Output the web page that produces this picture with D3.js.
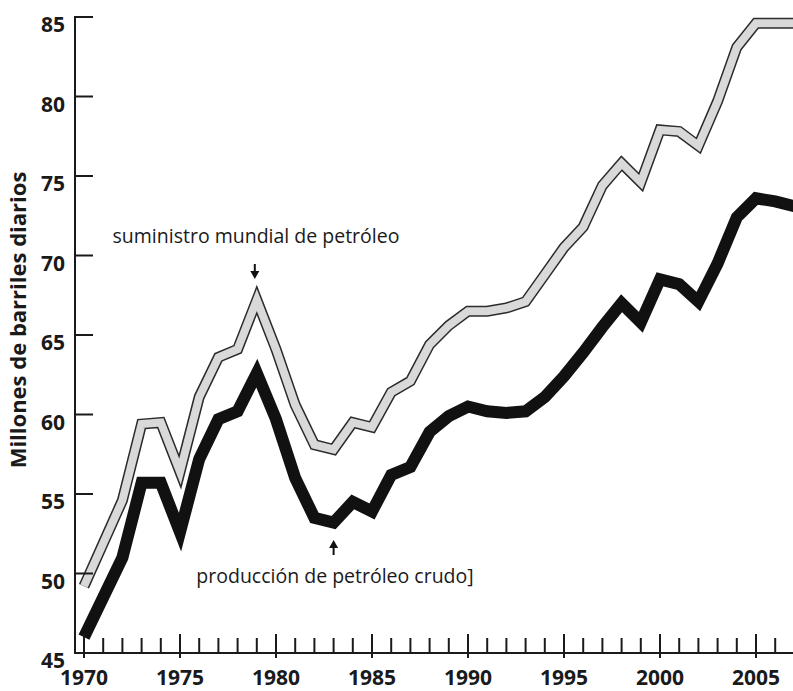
<!DOCTYPE html>
<html>
<head>
<meta charset="utf-8">
<script src="https://cdn.jsdelivr.net/npm/d3@7"></script>
<style>
  body { margin: 0; background: #fff; }
  svg { display: block; }
  .tick-label { font-family: 'Open Sans', sans-serif; font-weight: 700; font-size: 21px; fill: #1a1a1a; }
  .note { font-family: 'Open Sans', sans-serif; font-size: 19.5px; fill: #1a1a1a; }
</style>
</head>
<body>
<svg id="chart" width="793" height="691"></svg>
<script>
const years = d3.range(1970, 2008)

// millones de barriles diarios
const supply = [
  49.2, 51.9, 54.6, 59.4, 59.5, 56.4, 61.1, 63.6, 64.1, 67.2,
  64.1, 60.6, 58.1, 57.8, 59.5, 59.2, 61.4, 62.1, 64.4, 65.6,
  66.5, 66.5, 66.7, 67.1, 68.8, 70.5, 71.8, 74.4, 75.8, 74.6,
  77.9, 77.8, 76.9, 79.7, 83.1, 84.6, 84.6, 84.6
]
const production = [
  46.0, 48.5, 51.0, 55.7, 55.7, 52.6, 57.2, 59.7, 60.2, 62.6,
  59.7, 56.0, 53.5, 53.2, 54.5, 53.9, 56.2, 56.7, 58.9, 59.9,
  60.5, 60.2, 60.1, 60.2, 61.1, 62.4, 63.9, 65.5, 67.0, 65.8,
  68.5, 68.2, 67.1, 69.5, 72.4, 73.6, 73.4, 73.1
]

const yTicks = [45, 50, 55, 60, 65, 70, 75, 80, 85]
const xTickLabels = [1970, 1975, 1980, 1985, 1990, 1995, 2000, 2005]

const supplyLabel = 'suministro mundial de petróleo'
const productionLabel = 'producción de petróleo crudo]'
const yTitle = 'Millones de barriles diarios'

let svg = d3.select('#chart')

let x = d3.scaleLinear().domain([1970, 2005]).range([84, 756])
let y = d3.scaleLinear().domain([45, 85]).range([653, 17])

let line = d3.line()
  .x((d) => x(d[0]))
  .y((d) => y(d[1]))

let supplyData = years.map((yr, i) => [yr, supply[i]])
let productionData = years.map((yr, i) => [yr, production[i]])

// supply: light band with dark outline
svg.append('path')
  .datum(supplyData)
  .attr('d', line)
  .attr('fill', 'none')
  .attr('stroke', '#2b2b2b')
  .attr('stroke-width', 11)
  .attr('stroke-linejoin', 'miter')

svg.append('path')
  .datum(supplyData)
  .attr('d', line)
  .attr('fill', 'none')
  .attr('stroke', '#d9d9d9')
  .attr('stroke-width', 8)
  .attr('stroke-linejoin', 'miter')

// production: heavy black line
svg.append('path')
  .datum(productionData)
  .attr('d', line)
  .attr('fill', 'none')
  .attr('stroke', '#111')
  .attr('stroke-width', 12)
  .attr('stroke-linejoin', 'miter')

// y axis
let yAxis = svg.append('g').attr('class', 'y-axis')
yAxis.append('line')
  .attr('x1', 75).attr('x2', 75)
  .attr('y1', y(85) - 1).attr('y2', y(45))
  .attr('stroke', '#1a1a1a').attr('stroke-width', 2)

yAxis.selectAll('.ytick')
  .data(yTicks.filter((d) => d > 45))
  .enter()
  .append('line')
  .attr('x1', 75).attr('x2', 93)
  .attr('y1', (d) => y(d)).attr('y2', (d) => y(d))
  .attr('stroke', '#1a1a1a').attr('stroke-width', 2)

yAxis.selectAll('.tick-label')
  .data(yTicks)
  .enter()
  .append('text')
  .attr('class', 'tick-label')
  .attr('x', 65)
  .attr('y', (d) => y(d) + 15)
  .attr('text-anchor', 'end')
  .text((d) => d)

// x axis
let xAxis = svg.append('g').attr('class', 'x-axis')
xAxis.append('line')
  .attr('x1', 74).attr('x2', 793)
  .attr('y1', y(45)).attr('y2', y(45))
  .attr('stroke', '#1a1a1a').attr('stroke-width', 2)

xAxis.selectAll('.xtick')
  .data(years)
  .enter()
  .append('line')
  .attr('x1', (d) => x(d)).attr('x2', (d) => x(d))
  .attr('y1', (d) => d % 5 === 0 ? y(45) - 19 : y(45) - 15)
  .attr('y2', (d) => d % 5 === 0 ? y(45) + 5 : y(45))
  .attr('stroke', '#1a1a1a').attr('stroke-width', 2)

xAxis.selectAll('.tick-label')
  .data(xTickLabels)
  .enter()
  .append('text')
  .attr('class', 'tick-label')
  .attr('x', (d) => x(d))
  .attr('y', 685)
  .attr('text-anchor', 'middle')
  .text((d) => d)

svg.append('text')
  .attr('class', 'tick-label')
  .attr('transform', 'translate(26,320) rotate(-90)')
  .attr('text-anchor', 'middle')
  .style('font-size', '22px')
  .text(yTitle)

// annotations
svg.append('text')
  .attr('class', 'note')
  .attr('x', 256)
  .attr('y', 243)
  .attr('text-anchor', 'middle')
  .text(supplyLabel)

svg.append('text')
  .attr('class', 'note')
  .attr('x', 335)
  .attr('y', 583)
  .attr('text-anchor', 'middle')
  .text(productionLabel)

function arrow (cx, tip, dir) {
  // dir = 1 points down, -1 points up
  let base = tip - dir * 8
  let tail = tip - dir * 15
  svg.append('line')
    .attr('x1', cx).attr('x2', cx)
    .attr('y1', tail).attr('y2', base)
    .attr('stroke', '#111').attr('stroke-width', 2)
  svg.append('path')
    .attr('d', `M${cx - 4.5},${base} L${cx + 4.5},${base} L${cx},${tip} Z`)
    .attr('fill', '#111')
}

arrow(x(1979) - 2, 279, 1)
arrow(x(1983), 540, -1)
</script>
</body>
</html>
